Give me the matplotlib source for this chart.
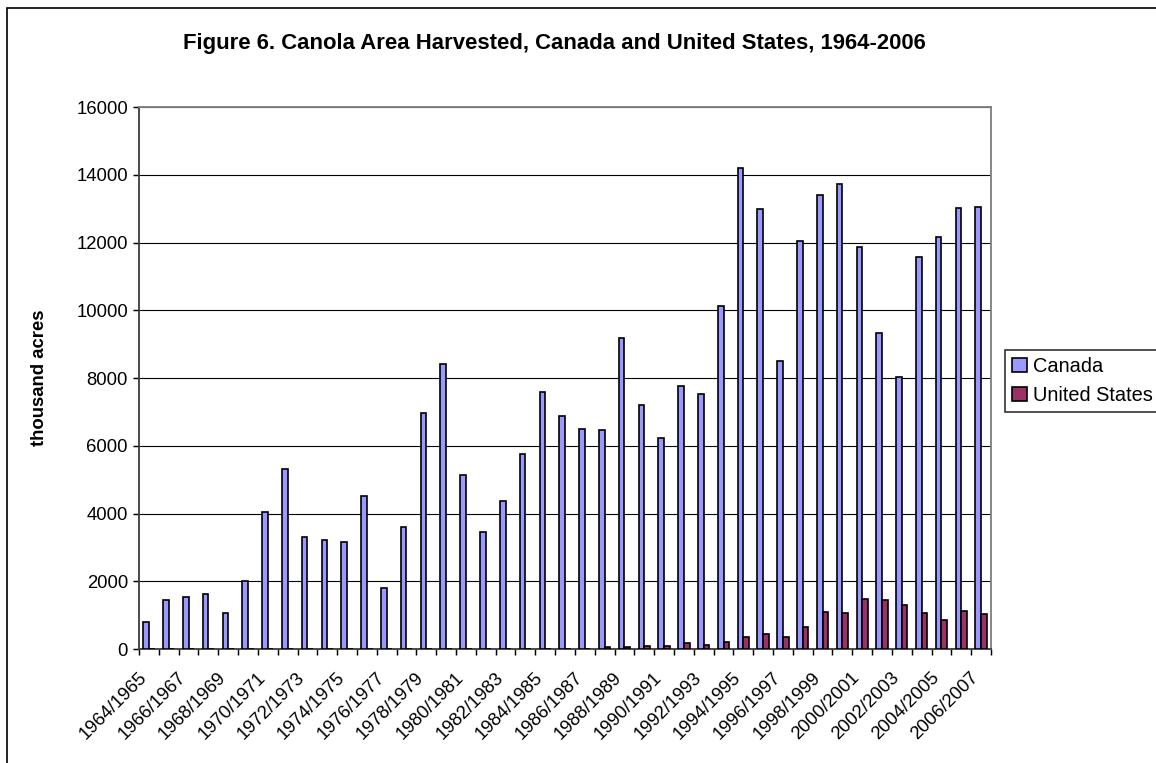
import numpy as np
import matplotlib
matplotlib.use("Agg")
import matplotlib.pyplot as plt
from matplotlib.patches import Rectangle
from matplotlib.transforms import ScaledTranslation

plt.rcParams['font.family'] = ['Liberation Sans', 'DejaVu Sans']

# Маркетинговые годы 1964/1965 ... 2006/2007
years = [f"{y}/{y + 1}" for y in range(1964, 2007)]

canada = [800, 1440, 1530, 1630, 1060, 2020, 4040, 5300, 3320, 3210,
          3160, 4520, 1790, 3600, 6980, 8400, 5140, 3450, 4380, 5760,
          7580, 6870, 6500, 6460, 9180, 7210, 6240, 7760, 7530, 10130,
          14200, 13000, 8510, 12030, 13390, 13720, 11860, 9340, 8040, 11560,
          12170, 13010, 13060]

united_states = [0, 0, 0, 0, 0, 0, 0, 0, 0, 0,
                 0, 0, 0, 0, 0, 0, 0, 0, 0, 0,
                 0, 0, 0, 50, 50, 100, 100, 170, 130, 200,
                 340, 430, 340, 640, 1080, 1050, 1490, 1450, 1290, 1070,
                 845, 1120, 1030]

dpi = 133
W, H = 1156, 763
fig = plt.figure(figsize=(W / dpi, H / dpi), dpi=dpi)
ax = fig.add_axes([139 / W, 1 - 649 / H, (991 - 139) / W, (649 - 107) / H])

n = len(years)
x = np.arange(n)
w = 1 / 3.5
ax.bar(x + 0.5 - w, canada, width=w, align='edge', color='#9999FF',
       edgecolor='black', linewidth=0.9, label='Canada', zorder=3)
ax.bar(x + 0.5, united_states, width=w, align='edge', color='#993366',
       edgecolor='black', linewidth=0.9, label='United States', zorder=3)

ax.set_xlim(0, n)
ax.set_ylim(0, 16000)
ax.set_yticks(np.arange(0, 16001, 2000))
ax.yaxis.grid(True, color='black', linewidth=0.6, zorder=0)
ax.tick_params(axis='y', direction='out', length=3, width=0.8, labelsize=10, pad=3)

# подписи через одну категорию, штрихи на границах категорий
ax.set_xticks(x[::2] + 0.5)
ax.set_xticklabels(years[::2], rotation=45, ha='right', va='center',
                   rotation_mode='anchor', fontsize=10)
ax.set_xticks(np.arange(n + 1), minor=True)
ax.tick_params(axis='x', which='major', length=0, pad=14)
ax.tick_params(axis='x', which='minor', direction='out', length=3, width=0.8)
shift = ScaledTranslation(-5 / dpi, 0, fig.dpi_scale_trans)
for lab in ax.get_xticklabels():
    lab.set_transform(lab.get_transform() + shift)

for side in ['left', 'bottom']:
    ax.spines[side].set_color('#404040')
    ax.spines[side].set_linewidth(1.0)
for side in ['top', 'right']:
    ax.spines[side].set_color('#808080')
    ax.spines[side].set_linewidth(1.0)

fig.text(183 / W, 1 - 43 / H,
         'Figure 6. Canola Area Harvested, Canada and United States, 1964-2006',
         ha='left', va='center', fontsize=12, fontweight='bold')
fig.text(40 / W, 1 - 378 / H, 'thousand acres', rotation=90,
         ha='center', va='center', fontsize=10, fontweight='bold')

# легенда обрезана правым краем, как в оригинале
leg = fig.legend(loc='upper left', bbox_to_anchor=(1005 / W, 1 - 350 / H),
                 bbox_transform=fig.transFigure, fontsize=10.8, frameon=True,
                 fancybox=False, handlelength=0.75, handleheight=0.7,
                 handletextpad=0.3, borderpad=0.35, labelspacing=0.5,
                 borderaxespad=0)
leg.get_frame().set_edgecolor('black')
leg.get_frame().set_linewidth(0.9)

# рамка области диаграммы (уходит за правый и нижний край)
fig.patches.append(Rectangle((7 / W, -0.1), 1.2, 1.1 - 8 / H, fill=False,
                             edgecolor='black', linewidth=0.9,
                             transform=fig.transFigure, figure=fig))

fig.savefig('out.png', dpi=dpi)
